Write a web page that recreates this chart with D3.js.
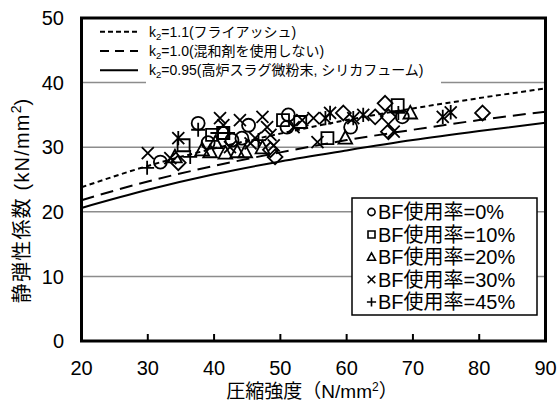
<!DOCTYPE html>
<html>
<head>
<meta charset="utf-8">
<script src="https://cdn.jsdelivr.net/npm/d3@7"></script>
<style>
  body { margin: 0; background: #fff; }
  svg text { font-family: "Liberation Sans", Arial, "Noto Sans CJK JP", sans-serif; fill: #000; }
</style>
</head>
<body>
<div id="chart"></div>
<script>
// 圧縮強度 vs 静弾性係数

// curve values
const fcValues = [20, 30, 40, 50, 60, 70, 80, 90];
const k110 = [23.8, 27.1, 29.8, 32.1, 34.2, 36.0, 37.6, 39.1];
const k100 = [21.8, 24.7, 27.1, 29.2, 31.1, 32.7, 34.2, 35.5];
const k095 = [20.6, 23.4, 25.8, 27.8, 29.5, 31.1, 32.5, 33.8];

// measured points [fc, E]
const bf0 = [[31.9, 27.7], [37.6, 33.7], [39.1, 30.7], [44.2, 31.4], [45.2, 33.4], [51.2, 35.0],
  [51.0, 33.1], [60.6, 33.1], [68.4, 34.7], [42.7, 31.1]];
const bf10 = [[35.4, 30.3], [41.4, 32.2], [50.4, 34.2], [57.1, 31.4], [67.7, 36.5], [39.7, 31.9], [53.0, 33.9]];
const bf20 = [[38.2, 29.6], [39.4, 29.3], [41.7, 29.1], [43.5, 29.3], [44.7, 29.3], [40.2, 30.7],
  [59.8, 31.4], [69.6, 35.3], [34.1, 28.5], [47.3, 29.9]];
const bf30 = [[30.0, 29.1], [33.4, 28.3], [40.9, 34.5], [41.4, 33.4], [42.4, 30.0], [43.9, 34.2],
  [45.5, 30.6], [47.3, 34.7], [48.0, 33.1], [49.0, 30.3], [52.0, 33.1], [53.3, 34.2], [55.0, 34.5],
  [55.6, 30.8], [67.1, 32.4], [48.5, 31.9], [46.2, 31.4]];
const bf45 = [[29.9, 26.8], [36.4, 28.5], [37.6, 32.7], [40.5, 32.2], [42.1, 32.2], [46.7, 31.1], [67.8, 35.3]];
const otherDiamond = [[34.6, 27.6], [49.2, 28.5], [59.5, 35.3], [64.3, 34.7], [65.8, 36.8], [66.3, 34.7],
  [66.3, 32.4], [80.5, 35.3], [48.5, 29.6]];
const otherStar = [[34.6, 31.4], [57.5, 35.3], [56.8, 34.5], [62.5, 35.0], [74.5, 34.7], [75.7, 35.4], [61.0, 34.5]];

const xTicks = [20, 30, 40, 50, 60, 70, 80, 90];
const yTicks = [0, 10, 20, 30, 40, 50];
const gridValues = [10, 20, 30, 40];
const curveLabels = ["=1.1(フライアッシュ)", "=1.0(混和剤を使用しない)", "=0.95(高炉スラグ微粉末, シリカフューム)"];
const seriesLabels = ["BF使用率=0%", "BF使用率=10%", "BF使用率=20%", "BF使用率=30%", "BF使用率=45%"];

const W = 560, H = 405;
const plotL = 81.5, plotR = 545.5, plotT = 18, plotB = 341;

const svg = d3.select("#chart").append("svg").attr("width", W).attr("height", H);

const x = d3.scaleLinear().domain([20, 90]).range([plotL, plotR]);
const y = d3.scaleLinear().domain([0, 50]).range([plotB, plotT]);

// gridlines
svg.append("g").selectAll("line").data(gridValues).enter().append("line")
  .attr("x1", plotL).attr("x2", plotR)
  .attr("y1", d => y(d)).attr("y2", d => y(d))
  .attr("stroke", "#8c8c8c").attr("stroke-width", 1.5);

// curves
const line = d3.line().x(d => x(d[0])).y(d => y(d[1])).curve(d3.curveMonotoneX);
const curves = [
  { vals: k110, dash: "5,3.5" },
  { vals: k100, dash: "13,7" },
  { vals: k095, dash: null }
];
curves.forEach(c => {
  svg.append("path")
    .datum(fcValues.map((f, i) => [f, c.vals[i]]))
    .attr("d", line).attr("fill", "none")
    .attr("stroke", "#000").attr("stroke-width", 2)
    .attr("stroke-dasharray", c.dash);
});

// marker shapes
function markerPath(type, s) {
  const p = d3.path();
  if (type === "circle") { p.moveTo(s, 0); p.arc(0, 0, s, 0, Math.PI * 2); }
  if (type === "square") { p.rect(-s, -s, 2 * s, 2 * s); }
  if (type === "triangle") { p.moveTo(0, -s * 1.1); p.lineTo(s * 1.05, s * 0.85); p.lineTo(-s * 1.05, s * 0.85); p.closePath(); }
  if (type === "cross") { p.moveTo(-s, -s); p.lineTo(s, s); p.moveTo(s, -s); p.lineTo(-s, s); }
  if (type === "plus") { p.moveTo(-s, 0); p.lineTo(s, 0); p.moveTo(0, -s); p.lineTo(0, s); }
  if (type === "diamond") { p.moveTo(0, -s * 1.2); p.lineTo(s * 1.2, 0); p.lineTo(0, s * 1.2); p.lineTo(-s * 1.2, 0); p.closePath(); }
  if (type === "star") { p.moveTo(-s, -s); p.lineTo(s, s); p.moveTo(s, -s); p.lineTo(-s, s); p.moveTo(0, -s * 1.2); p.lineTo(0, s * 1.2); }
  return p.toString();
}

const series = [
  { data: bf0, type: "circle", size: 6.5 },
  { data: bf10, type: "square", size: 6 },
  { data: bf20, type: "triangle", size: 6.5 },
  { data: bf30, type: "cross", size: 6 },
  { data: bf45, type: "plus", size: 7 },
  { data: otherDiamond, type: "diamond", size: 6.2 },
  { data: otherStar, type: "star", size: 6 }
];
series.forEach(s => {
  svg.append("g").selectAll("path").data(s.data).enter().append("path")
    .attr("transform", d => `translate(${x(d[0])},${y(d[1])})`)
    .attr("d", markerPath(s.type, s.size))
    .attr("fill", "none").attr("stroke", "#000").attr("stroke-width", 1.8);
});

// frame
svg.append("rect").attr("x", plotL).attr("y", plotT)
  .attr("width", plotR - plotL).attr("height", plotB - plotT)
  .attr("fill", "none").attr("stroke", "#000").attr("stroke-width", 3);

// x ticks (inside)
svg.append("g").selectAll("line").data(xTicks.slice(1, -1)).enter().append("line")
  .attr("x1", d => x(d)).attr("x2", d => x(d))
  .attr("y1", plotB).attr("y2", plotB - 7)
  .attr("stroke", "#000").attr("stroke-width", 2);

svg.append("g").selectAll("text").data(xTicks).enter().append("text")
  .attr("x", d => x(d)).attr("y", 375)
  .attr("text-anchor", "middle").style("font-size", "20px").text(d => d);

svg.append("g").selectAll("text").data(yTicks).enter().append("text")
  .attr("x", 64).attr("y", d => y(d)).attr("dy", "0.36em")
  .attr("text-anchor", "end").style("font-size", "20px").text(d => d);

// axis titles
const xt = svg.append("text").attr("x", 312).attr("y", 398)
  .attr("text-anchor", "middle").style("font-size", "19px");
xt.append("tspan").text("圧縮強度（N/mm");
xt.append("tspan").attr("dy", -7).style("font-size", "12px").text("2");
xt.append("tspan").attr("dy", 7).text("）");

const yt = svg.append("text")
  .attr("transform", "translate(29,201) rotate(-90)")
  .attr("text-anchor", "middle").style("font-size", "20px");
yt.append("tspan").text("静弾性係数 (kN/mm").attr("letter-spacing", "1.2px");
yt.append("tspan").attr("dy", -8).style("font-size", "14px").text("2");
yt.append("tspan").attr("dy", 8).text(")");

// top-left legend
svg.append("rect").attr("x", 146).attr("y", 21).attr("width", 295).attr("height", 64).attr("fill", "#fff");
const legRows = [31.7, 51, 70.3];
const legDash = ["5,3", "9,6", null];
curveLabels.forEach((lab, i) => {
  svg.append("line").attr("x1", 100).attr("x2", 138)
    .attr("y1", legRows[i]).attr("y2", legRows[i])
    .attr("stroke", "#000").attr("stroke-width", 2).attr("stroke-dasharray", legDash[i]);
  const t = svg.append("text").attr("x", 149).attr("y", legRows[i] + 5).style("font-size", "14px");
  t.append("tspan").text("k");
  t.append("tspan").attr("dy", 3).style("font-size", "9.5px").text("2");
  t.append("tspan").attr("dy", -3).text(lab);
});

// bottom-right legend
svg.append("rect").attr("x", 352).attr("y", 198).attr("width", 185).attr("height", 117)
  .attr("fill", "#fff").attr("stroke", "#000").attr("stroke-width", 1.5);
const legTypes = [["circle", 3.6], ["square", 3.5], ["triangle", 3.8], ["cross", 3.8], ["plus", 4.6]];
seriesLabels.forEach((lab, i) => {
  const cy = 212 + i * 22.5;
  svg.append("path").attr("transform", `translate(371.5,${cy})`)
    .attr("d", markerPath(legTypes[i][0], legTypes[i][1]))
    .attr("fill", "none").attr("stroke", "#000").attr("stroke-width", 1.6);
  svg.append("text").attr("x", 378).attr("y", cy).attr("dy", "0.36em")
    .style("font-size", "20px").text(lab);
});
</script>
</body>
</html>
